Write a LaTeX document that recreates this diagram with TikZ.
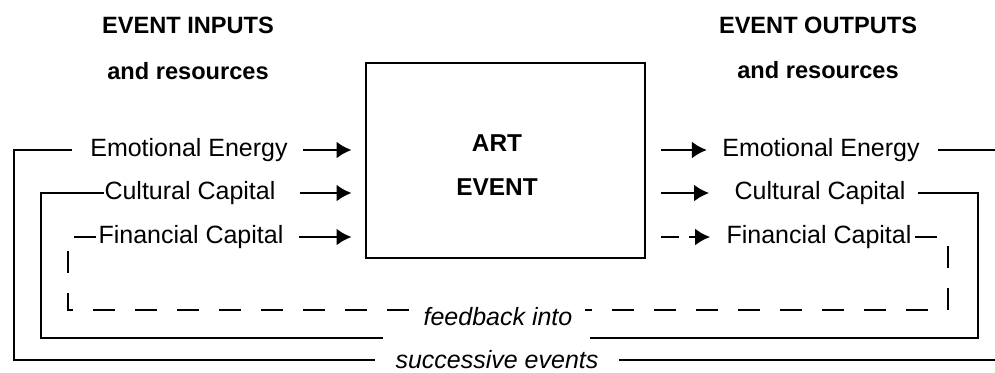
\documentclass[tikz,border=0pt]{standalone}
\usepackage{fontspec}
\setmainfont{Liberation Sans}
\usetikzlibrary{arrows.meta}

\begin{document}
\begin{tikzpicture}[
  x=0.5pt,y=-0.5pt,
  head/.style={font=\bfseries\fontsize{11.8}{14}\selectfont},
  res/.style={font=\fontsize{12.5}{15}\selectfont,inner sep=0pt},
  loopnote/.style={font=\itshape\fontsize{12.5}{15}\selectfont,inner ysep=0pt},
  flow/.style={-{Latex[length=7.5pt,width=8.5pt]},line width=1.4pt},
  wire/.style={line width=1.1pt},
  fbwire/.style={line width=1.1pt,dash pattern=on 11pt off 10pt}
]
\useasboundingbox (0,0) rectangle (995,372);

% headings
\node[head] (inT) at (188,25) {EVENT INPUTS};
\node[head] (inS) at (188,71) {and resources};
\node[head] (outT) at (818,25) {EVENT OUTPUTS};
\node[head] (outS) at (818,70) {and resources};

% the event
\node[draw,line width=1.4pt,minimum width=139.5pt,minimum height=97.5pt] (art) at (505.5,160.5) {};
\node[font=\bfseries\fontsize{12.2}{22}\selectfont,align=center] (artlbl) at (497,165) {ART\\EVENT};

% inputs
\node[res] (eeL) at (189,150) {Emotional Energy};
\node[res] (ccL) at (190,193) {Cultural Capital};
\node[res] (fcL) at (191,237) {Financial Capital};
\foreach \n/\s in {eeL/7.5,ccL/12,fcL/7.5}
  \draw[flow,shorten >=6.5pt] ([xshift=\s pt]\n.east) -- (\n.east -| art.west);

% outputs
\node[res] (eeR) at (821,150) {Emotional Energy};
\node[res] (ccR) at (820,193) {Cultural Capital};
\node[res] (fcR) at (819,237) {Financial Capital};
\draw[flow,shorten <=7.5pt] (art.east |- eeR) -- ([xshift=-7.5pt]eeR.west);
\draw[flow,shorten <=7.5pt] (art.east |- ccR) -- ([xshift=-12.5pt]ccR.west);
\draw[flow,shorten <=7.5pt,dash pattern=on 9pt off 5pt] (art.east |- fcR) -- ([xshift=-8pt]fcR.west);

% feedback loops
\coordinate (obl) at (14,360);
\coordinate (obr) at (995,360);
\coordinate (mbl) at (41,338);
\coordinate (mbr) at (978,338);
\coordinate (mgapL) at (383,338);
\coordinate (mgapR) at (590,338);
\coordinate (ibl) at (68,310);
\coordinate (ibr) at (948,310);
\node[loopnote,inner xsep=10pt] (succ) at (497,360) {successive events};
\node[loopnote,inner xsep=6pt] (fb) at (498,317) {feedback into};

\draw[wire] ([xshift=-9pt]eeL.west) -| (obl) -- (succ.west);
\draw[wire] (succ.east) -- (obr);
\draw[wire] ([xshift=9pt]eeR.east) -- (eeR.east -| obr);

\draw[wire] (ccL.west) -| (mbl) -- (mgapL);
\draw[wire] (mgapR) -- (mbr) |- ([xshift=6pt]ccR.east);

\draw[fbwire] ([xshift=-1pt]fcL.west) -| (ibl) -- (fb.west |- ibl);
\draw[fbwire] ([xshift=1.5pt]fcR.east) -| (ibr) -- (fb.east |- ibl);
\end{tikzpicture}
\end{document}
